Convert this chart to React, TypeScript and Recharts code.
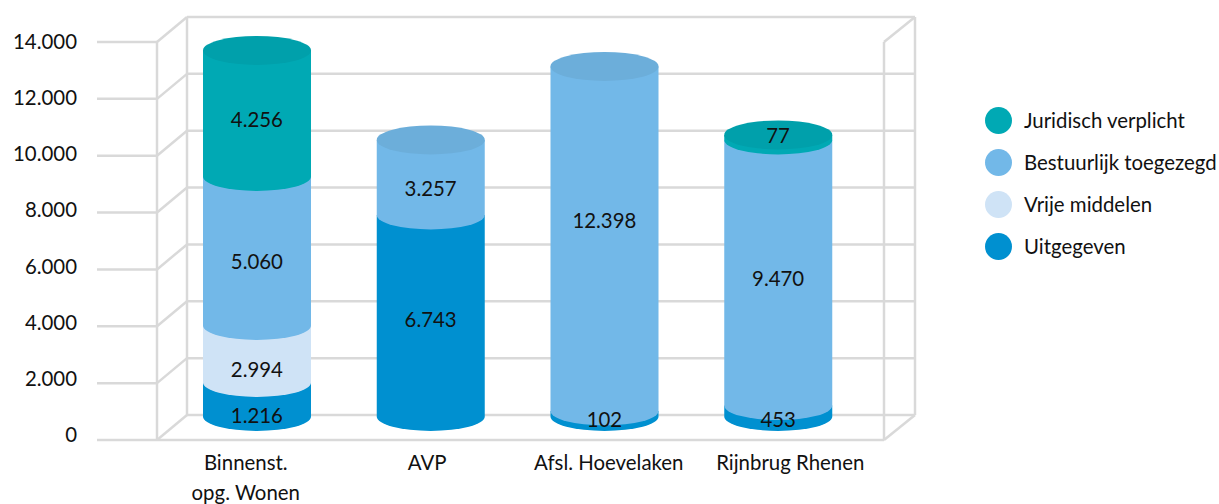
import { Bar, CartesianGrid, ComposedChart, LabelList, Legend, Line, XAxis, YAxis } from "recharts";

const categories = ["Binnenst.\nopg. Wonen", "AVP", "Afsl. Hoevelaken", "Rijnbrug Rhenen"];

// column heights as drawn in the picture (the drawn segments
// are not exactly to scale with the printed numbers, so those are kept apart)
const uitgegeven = [1196, 7088, 193, 380];
const vrijeMiddelen = [2005, 0, 0, 0];
const bestuurlijk = [5241, 2638, 12118, 9346];
const juridisch = [4432, 0, 0, 176];

// printed numbers
const uitgegevenText = ["1.216", "6.743", "102", "453"];
const vrijeMiddelenText = ["2.994", null, null, null];
const bestuurlijkText = ["5.060", "3.257", "12.398", "9.470"];
const juridischText = ["4.256", null, null, "77"];

// where the printed numbers sit on the column axis
const uitgegevenAt = [53, 3430, -88, -88];
const vrijeMiddelenAt = [1671, null, null, null];
const bestuurlijkAt = [5470, 8037, 6912, 4872];
const juridischAt = [10464, null, null, 9901];

const yTicks = [0, 2000, 4000, 6000, 8000, 10000, 12000, 14000];
const yTickLabels = ["0", "2.000", "4.000", "6.000", "8.000", "10.000", "12.000", "14.000"];

const data = categories.map((name, i) => ({
  name,
  uitgegeven: uitgegeven[i],
  vrijeMiddelen: vrijeMiddelen[i],
  bestuurlijk: bestuurlijk[i],
  juridisch: juridisch[i],
  uitgegevenText: uitgegevenText[i],
  vrijeMiddelenText: vrijeMiddelenText[i],
  bestuurlijkText: bestuurlijkText[i],
  juridischText: juridischText[i],
  uitgegevenAt: uitgegevenAt[i],
  vrijeMiddelenAt: vrijeMiddelenAt[i],
  bestuurlijkAt: bestuurlijkAt[i],
  juridischAt: juridischAt[i],
}));

const series = [
  { key: "uitgegeven", name: "Uitgegeven", fill: "#0090D0", top: "#0088C6" },
  { key: "vrijeMiddelen", name: "Vrije middelen", fill: "#CFE3F6", top: "#C4D9EC" },
  { key: "bestuurlijk", name: "Bestuurlijk toegezegd", fill: "#72B8E8", top: "#6CAEDA" },
  { key: "juridisch", name: "Juridisch verplicht", fill: "#00A9B4", top: "#00A0AB" },
];

const FONT = "Lato, sans-serif";
const FONT_SIZE = 20.4;
const INK = "#111";
const GRID = "#D9D9D9";
const GRID_W = 2.5;
const DX = 30; // depth of the box
const DY = -25;
const LEFT = 157;
const RIGHT = 884;
const PLOT_TOP = 42;
const PLOT_BOTTOM = 440;
const RY = 14.5;

function gridLine(x1: number, y1: number, x2: number, y2: number) {
  return <line x1={x1} y1={y1} x2={x2} y2={y2} stroke={GRID} strokeWidth={GRID_W} />;
}

// the 3d box hangs off the grid lines so it stays on the axis scale and under the bars
function BoxLine(props: any) {
  const y = props.y1;
  const top = Math.abs(y - PLOT_TOP) < 1;
  const bottom = Math.abs(y - PLOT_BOTTOM) < 1;
  const height = PLOT_BOTTOM - PLOT_TOP;
  return (
    <g key={props.key}>
      {gridLine(97, y, LEFT, y)}
      {gridLine(LEFT, y, LEFT + DX, y + DY)}
      {gridLine(LEFT + DX, y + DY, RIGHT + DX + 1, y + DY)}
      {bottom && gridLine(LEFT, y, RIGHT, y)}
      {(bottom || top) && gridLine(RIGHT, y, RIGHT + DX + 1, y + DY)}
      {bottom && gridLine(LEFT, y, LEFT, y - height)}
      {bottom && gridLine(RIGHT, y, RIGHT, y - height)}
      {bottom && gridLine(LEFT + DX, y + DY, LEFT + DX, y + DY - height)}
      {bottom && gridLine(RIGHT + DX + 1, y + DY, RIGHT + DX + 1, y + DY - height)}
    </g>
  );
}

function ValueTick(props: any) {
  const { y, index } = props;
  return (
    <text x={77} y={41 + ((y - 42) * 393) / 398} textAnchor="end" dominantBaseline="central" fontFamily={FONT} fontSize={FONT_SIZE} fill={INK}>
      {yTickLabels[index]}
    </text>
  );
}

function CategoryTick(props: any) {
  const { x, payload } = props;
  return (
    <text x={x} textAnchor="middle" fontFamily={FONT} fontSize={FONT_SIZE} fill={INK}>
      {String(payload.value).split("\n").map((line, i) => (
        <tspan key={i} x={x} y={470 + i * 30}>
          {line}
        </tspan>
      ))}
    </text>
  );
}

function Cylinder(props: any) {
  const { x, y, width, height, fill, topFill, isTop } = props;
  if (!height || height <= 0) return null;
  const rx = width / 2;
  const side = `M${x},${y + height} A${rx},${RY} 0 0 0 ${x + width},${y + height} L${x + width},${y} L${x},${y} Z`;
  return (
    <g>
      <path d={side} fill={fill} />
      {isTop && <ellipse cx={x + rx} cy={y} rx={rx} ry={RY} fill={topFill} />}
    </g>
  );
}

function ValueLabel(props: any) {
  const { x, y, value } = props;
  if (value == null) return null;
  return (
    <text x={x} y={y} textAnchor="middle" dominantBaseline="central" fontFamily={FONT} fontSize={FONT_SIZE} fill={INK}>
      {value}
    </text>
  );
}

function ChartLegend() {
  return (
    <div style={{ fontFamily: FONT, fontSize: FONT_SIZE, color: INK }}>
      {[...series].reverse().map((s) => (
        <div key={s.key} style={{ display: "flex", alignItems: "center", height: 42, whiteSpace: "nowrap" }}>
          <span style={{ flex: "none", width: 27, height: 27, borderRadius: "50%", background: s.fill, marginRight: 12 }} />
          {s.name}
        </div>
      ))}
    </div>
  );
}

export default function App() {
  return (
    <div style={{ position: "absolute", left: 0, top: 0, width: 1219, height: 504, overflow: "hidden" }}>
      <ComposedChart width={1219} height={504} data={data} margin={{ top: 42, right: 335, bottom: 0, left: 97 }}>
        <CartesianGrid vertical={false} horizontal={(p: any) => <BoxLine {...p} />} horizontalValues={yTicks} />
        <YAxis width={60} domain={[0, 14000]} ticks={yTicks} interval={0} axisLine={false} tickLine={false} tick={(p: any) => <ValueTick {...p} />} />
        <YAxis yAxisId="bars" hide domain={[-830, 13170]} />
        <XAxis dataKey="name" height={64} interval={0} axisLine={false} tickLine={false} tick={(p: any) => <CategoryTick {...p} />} padding={{ left: -2, right: 3 }} />
        <XAxis xAxisId="bars" dataKey="name" hide padding={{ left: 13, right: 19 }} />
        <Legend
          layout="vertical"
          align="center"
          verticalAlign="middle"
          content={<ChartLegend />}
          wrapperStyle={{ position: "absolute", left: 985, top: 99, width: 234, margin: 0 }}
        />
        {/* keeps the visible axes alive, they carry no marks of their own */}
        <Line dataKey="uitgegeven" stroke="none" dot={false} activeDot={false} legendType="none" isAnimationActive={false} />
        {series.map((s, i) => (
          <Bar
            key={s.key}
            dataKey={s.key}
            name={s.name}
            stackId="a"
            xAxisId="bars"
            yAxisId="bars"
            barSize={108}
            fill={s.fill}
            isAnimationActive={false}
            shape={(p: any) => (
              <Cylinder
                {...p}
                topFill={s.top}
                isTop={series.slice(i + 1).every((n) => !(data[p.index] as any)[n.key])}
              />
            )}
          />
        ))}
        {series.map((s) => (
          <Line
            key={s.key + "At"}
            dataKey={s.key + "At"}
            xAxisId="bars"
            yAxisId="bars"
            stroke="none"
            dot={false}
            activeDot={false}
            legendType="none"
            isAnimationActive={false}
          >
            <LabelList dataKey={s.key + "Text"} content={<ValueLabel />} />
          </Line>
        ))}
      </ComposedChart>
    </div>
  );
}
